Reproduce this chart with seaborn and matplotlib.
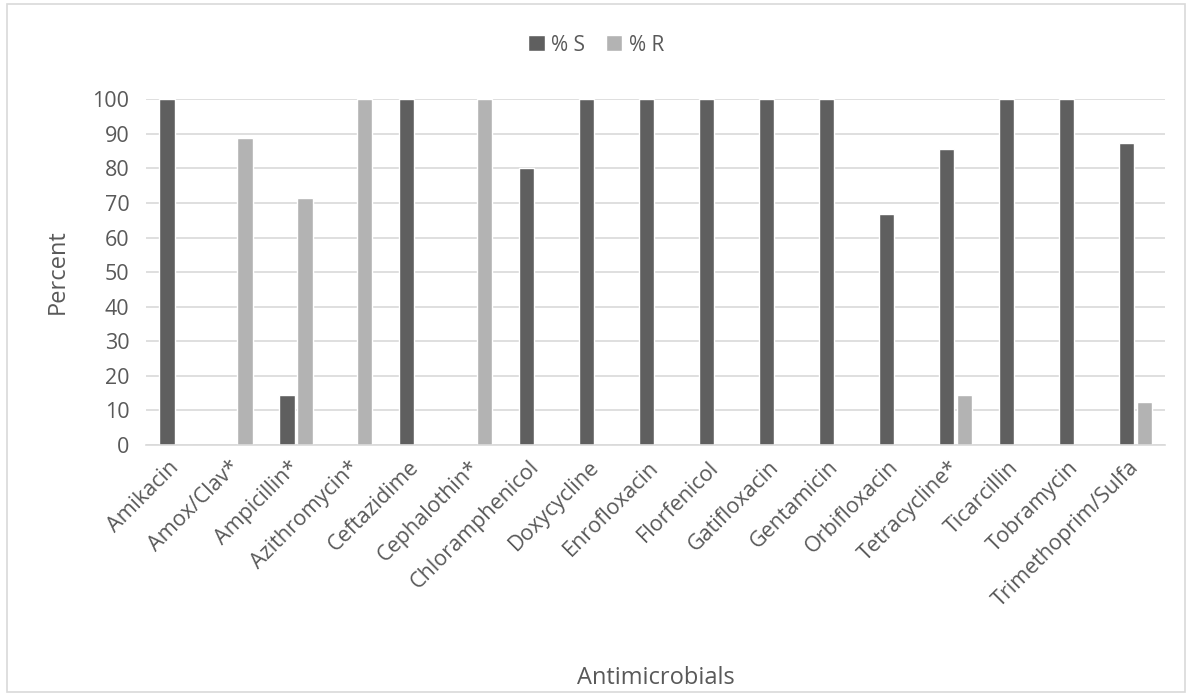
import pandas as pd
import matplotlib.pyplot as plt
import seaborn as sns
from matplotlib.patches import Rectangle

drugs = ['Amikacin', 'Amox/Clav*', 'Ampicillin*', 'Azithromycin*', 'Ceftazidime',
         'Cephalothin*', 'Chloramphenicol', 'Doxycycline', 'Enrofloxacin',
         'Florfenicol', 'Gatifloxacin', 'Gentamicin', 'Orbifloxacin',
         'Tetracycline*', 'Ticarcillin', 'Tobramycin', 'Trimethoprim/Sulfa']
pct_s = [100, 0, 14.3, 0, 100, 0, 80, 100, 100, 100, 100, 100, 66.7, 85.7, 100, 100, 87.5]
pct_r = [0, 88.9, 71.4, 100, 0, 100, 0, 0, 0, 0, 0, 0, 0, 14.3, 0, 0, 12.5]

df = pd.DataFrame({
    'Antimicrobials': drugs * 2,
    'Percent': pct_s + pct_r,
    'Group': ['% S'] * len(drugs) + ['% R'] * len(drugs),
})

sns.set_style('white')
plt.rcParams['font.family'] = ['Open Sans', 'DejaVu Sans']
txt = '#595959'

fig = plt.figure(figsize=(11.92, 6.95), dpi=100)
ax = fig.add_axes([0.1225, 0.36, 0.855, 0.497])

sns.barplot(data=df, x='Antimicrobials', y='Percent', hue='Group',
            palette={'% S': '#5f5f5f', '% R': '#b3b3b3'},
            width=0.6, gap=0.15, saturation=1, ax=ax)

ax.set_ylim(0, 100)
ax.set_yticks(range(0, 101, 10))
ax.set_xlim(-0.5, len(drugs) - 0.5)
ax.yaxis.grid(True, color='#d9d9d9', linewidth=1.2)
ax.set_axisbelow(True)
for s in ['top', 'right', 'left']:
    ax.spines[s].set_visible(False)
ax.spines['bottom'].set_color('#d9d9d9')
ax.spines['bottom'].set_linewidth(1.2)
ax.tick_params(axis='both', length=0, labelsize=15.5, colors=txt)
ax.tick_params(axis='y', pad=12)
ax.tick_params(axis='x', pad=14)
plt.setp(ax.get_xticklabels(), rotation=45, ha='right', va='center',
         rotation_mode='anchor')
ax.set_ylabel('Percent', fontsize=17, color=txt, labelpad=16)
ax.set_xlabel('Antimicrobials', fontsize=17, color=txt)
ax.xaxis.set_label_coords(0.5, -0.64)

# legend centred on the whole chart, not the plot area
handles, labels = ax.get_legend_handles_labels()
ax.get_legend().remove()
fig.legend(handles, labels, loc='center', bbox_to_anchor=(0.5, 0.935), ncol=2,
           frameon=False, fontsize=15, labelcolor=txt, handlelength=0.8,
           handleheight=0.8, handletextpad=0.3, columnspacing=1.0)

# chart border like the original
fig.patches.append(Rectangle((0.006, 0.004), 0.988, 0.99, transform=fig.transFigure,
                             fill=False, edgecolor='#d9d9d9', linewidth=1.2))

fig.savefig('out.png', dpi=100)
